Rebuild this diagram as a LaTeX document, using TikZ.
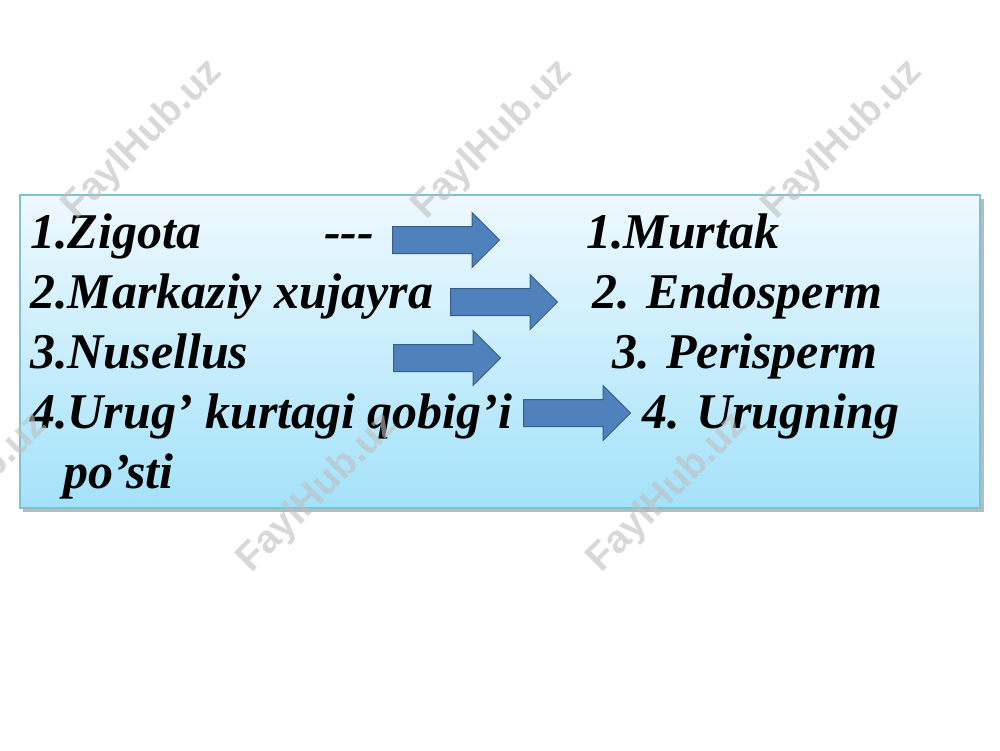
\documentclass[tikz,border=0pt]{standalone}
\usepackage{fontspec}
\setmainfont{Liberation Serif}
\newfontfamily\itemfont{Liberation Serif}[UprightFont={* Bold Italic}]
\newfontfamily\wmfont{Liberation Sans}
\usepackage{tikz}
\usetikzlibrary{positioning}
\usetikzlibrary{shapes.arrows}

\definecolor{boxtop}{RGB}{238,249,254}
\definecolor{boxbottom}{RGB}{164,226,250}
\definecolor{boxline}{RGB}{130,192,212}
\definecolor{arrowfill}{RGB}{79,129,189}
\definecolor{arrowline}{RGB}{56,93,138}

\begin{document}
\begin{tikzpicture}
		[x=1pt, y=-1pt,
		item/.style={anchor=base west, inner sep=0pt, font=\itemfont\fontsize{50}{60}\selectfont},
		blockarrow/.style={single arrow, draw=arrowline, fill=arrowfill, line width=1pt,
			inner xsep=0pt, inner ysep=13pt, minimum height=107pt, single arrow head extend=14pt, anchor=west},
		watermark/.style={rotate=45, text=black!25, opacity=0.6, font=\wmfont\bfseries\fontsize{39}{39}\selectfont}]
		\useasboundingbox (0,0) rectangle (1000,750);
		\fill[white] (0,0) rectangle (1000,750);

		\fill[black!45, opacity=0.6] (23,199) rectangle (984,512);
		\shade[top color=boxtop, bottom color=boxbottom, draw=boxline, line width=1.2pt] (20,195) rectangle (980,508);

		\node[item] (zigota) at (30,248) {1.Zigota};
		\node[item] (dash) at (324,248) {-{}-{}-};
		\node[item] (markaziy) at (30,308) {2.Markaziy xujayra};
		\node[item] (nusellus) at (30,368) {3.Nusellus};
		\node[item] (qobig) at (30,428) {4.Urug’ kurtagi qobig’i -};
		\node[item] (posti) at (63,488) {po’sti};

		\node[blockarrow] (arrA) at (392,240) {};
		\node[blockarrow] (arrB) at (450,302) {};
		\node[blockarrow] (arrC) at (393,358) {};
		\node[blockarrow] (arrD) at (523,413) {};

		\node[item] (murtak) at (586,248) {1.Murtak};
		\node[item] (endosperm) at (592,308) {2. Endosperm};
		\node[item] (perisperm) at (612,368) {3. Perisperm};
		\node[item] (urugning) at (642,428) {4. Urugning};

		\foreach \x in {143,493,843}
			\node[watermark] at (\x,140) {FaylHub.uz};
		\foreach \x in {-32,318,668}
			\node[watermark] at (\x,493) {FaylHub.uz};
	\end{tikzpicture}
\end{document}
